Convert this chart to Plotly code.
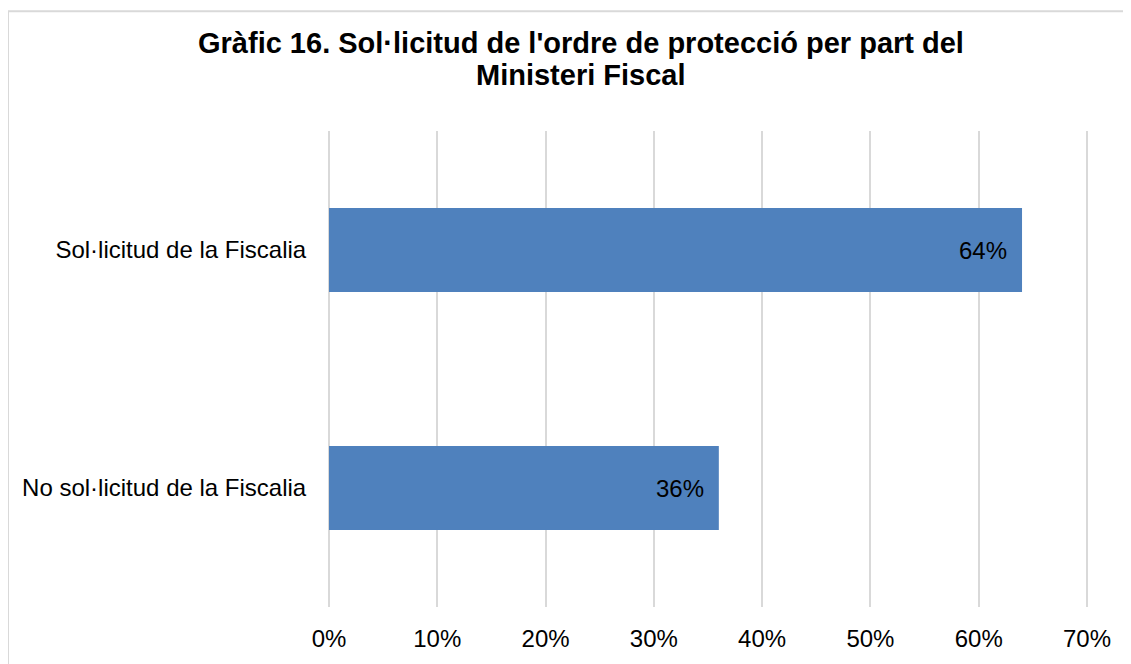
import plotly.graph_objects as go

categories = ["No sol·licitud de la Fiscalia", "Sol·licitud de la Fiscalia"]
values = [0.36, 0.64]
value_labels = ["36%", "64%"]
tick_vals = [0, 0.1, 0.2, 0.3, 0.4, 0.5, 0.6, 0.7]
tick_text = ["0%", "10%", "20%", "30%", "40%", "50%", "60%", "70%"]
title_lines = ["Gràfic 16. Sol·licitud de l'ordre de protecció per part del", "Ministeri Fiscal"]

# page has an 8px body margin, so figure coordinates = page coordinates - 8
OFF = 8
W, H = 1131 - OFF, 664 - OFF
ml, mr, mt, mb = 319, 42, 123, 52
pw, ph = W - ml - mr, H - mt - mb
EDGE = 2 / (758 / 0.7)  # 2px of slack so edge gridlines are drawn
x_range = [0 - EDGE, 0.7 + EDGE]

def px_x(x):
    return (x - OFF - ml) / pw

def px_y(y):
    return (H - mb - (y - OFF)) / ph

fig = go.Figure()
fig.add_trace(go.Bar(
    y=categories, x=values, orientation="h",
    marker=dict(color="#4F81BD", line=dict(width=0)),
    hoverinfo="skip",
))

font = "Liberation Sans, Arial, sans-serif"
annotations = []
for c, v, t in zip(categories, values, value_labels):
    annotations.append(dict(x=v, y=c, xref="x", yref="y", text=t, showarrow=False,
                            xanchor="right", yanchor="middle", xshift=-13,
                            font=dict(family=font, size=24, color="#000000")))
for i, (line, py) in enumerate(zip(title_lines, [42, 74])):
    annotations.append(dict(x=px_x(581), y=px_y(py), xref="paper", yref="paper", text="<b>%s</b>" % line,
                            showarrow=False, xanchor="center", yanchor="middle",
                            font=dict(family=font, size=29, color="#000000")))

fig.update_layout(
    width=W, height=H,
    margin=dict(l=ml, r=mr, t=mt, b=mb, pad=0),
    paper_bgcolor="white", plot_bgcolor="white",
    showlegend=False,
    bargap=0.647,
    annotations=annotations,
    font=dict(family=font, size=24, color="#000000"),
    shapes=[dict(type="rect", xref="paper", yref="paper",
                 x0=px_x(8), x1=px_x(1150), y0=px_y(690), y1=px_y(10),
                 line=dict(color="#D9D9D9", width=2), fillcolor="rgba(0,0,0,0)", layer="below")],
)
fig.update_xaxes(range=x_range, tickvals=tick_vals, ticktext=tick_text,
                 showgrid=True, gridcolor="#D9D9D9", gridwidth=2,
                 zeroline=True, zerolinecolor="#D9D9D9", zerolinewidth=2, showline=False,
                 ticks="outside", ticklen=10, tickcolor="rgba(0,0,0,0)",
                 tickfont=dict(family=font, size=24, color="#000000"), fixedrange=True)
fig.update_yaxes(showgrid=False, zeroline=False, showline=False,
                 ticks="outside", ticklen=15, tickcolor="rgba(0,0,0,0)",
                 tickfont=dict(family=font, size=24, color="#000000"), fixedrange=True)

fig.write_html("out.html")
